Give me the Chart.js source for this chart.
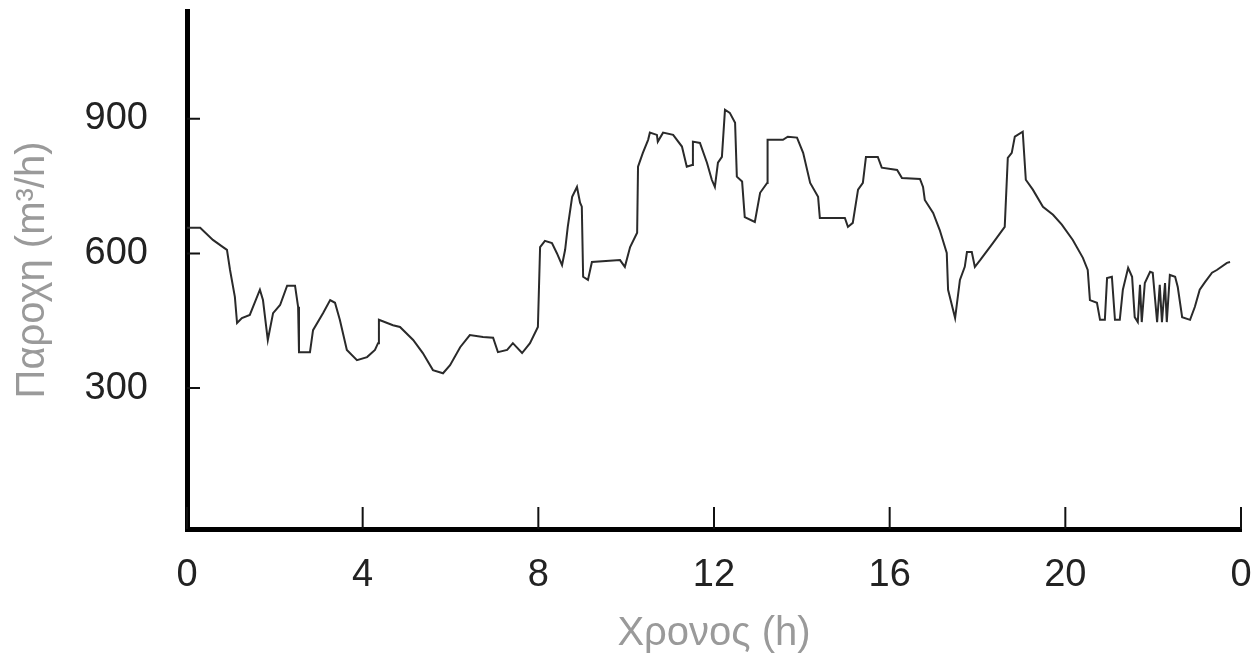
<!DOCTYPE html>
<html>
<head>
<meta charset="utf-8">
<script src="https://cdn.jsdelivr.net/npm/chart.js@4"></script>
<style>
  html, body { margin: 0; padding: 0; background: #fff; }
  #wrap { width: 1252px; height: 654px; }
</style>
</head>
<body>
<div id="wrap"><canvas id="flowChart" width="1252" height="654"></canvas></div>
<script>
// --- Data (hour of day, flow in m3/h) ---
const hours = [
  0, 0.30, 0.59, 0.82, 0.91, 0.98, 1.09, 1.14, 1.25, 1.43, 1.66, 1.73, 1.84, 1.96, 2.12, 2.28, 2.46, 2.53, 2.55, 2.80,
  2.87, 3.10, 3.26, 3.37, 3.48, 3.64, 3.87, 4.10, 4.28, 4.35, 4.37, 4.69, 4.85, 5.15, 5.37, 5.60, 5.83, 5.99, 6.22, 6.44,
  6.74, 6.97, 7.08, 7.29, 7.42, 7.63, 7.81, 7.99, 8.04, 8.15, 8.31, 8.42, 8.54, 8.61, 8.67, 8.77, 8.88, 8.95, 8.99, 9.02,
  9.13, 9.22, 9.86, 9.97, 10.09, 10.25, 10.27, 10.38, 10.50, 10.54, 10.70, 10.72, 10.84, 11.07, 11.27, 11.38, 11.50, 11.52, 11.68, 11.84,
  11.95, 12.02, 12.09, 12.18, 12.25, 12.36, 12.48, 12.52, 12.64, 12.70, 12.93, 13.05, 13.21, 13.22, 13.57, 13.68, 13.89, 14.03, 14.19, 14.37,
  14.41, 14.98, 15.05, 15.16, 15.28, 15.39, 15.46, 15.73, 15.82, 16.17, 16.28, 16.69, 16.76, 16.80, 16.99, 17.14, 17.30, 17.33, 17.49, 17.60,
  17.71, 17.76, 17.87, 17.94, 18.06, 18.35, 18.62, 18.69, 18.78, 18.85, 19.03, 19.10, 19.26, 19.49, 19.72, 19.92, 20.17, 20.40, 20.51, 20.56,
  20.72, 20.79, 20.90, 20.95, 21.06, 21.13, 21.24, 21.31, 21.43, 21.52, 21.58, 21.65, 21.70, 21.74, 21.81, 21.93, 21.99, 22.09, 22.15, 22.20,
  22.27, 22.31, 22.38, 22.50, 22.56, 22.66, 22.84, 22.95, 23.06, 23.18, 23.34, 23.45, 23.68, 23.75
];
const flow = [
  657, 657, 630, 614, 608, 563, 503, 445, 456, 463, 519, 496, 407, 467, 485, 528, 528, 481, 380, 380,
  429, 467, 496, 490, 452, 385, 362, 369, 385, 400, 452, 440, 436, 407, 378, 340, 333, 351, 391, 418,
  414, 412, 380, 385, 400, 378, 400, 436, 614, 628, 623, 601, 574, 608, 659, 726, 748, 713, 704, 548,
  541, 581, 585, 570, 614, 646, 793, 824, 853, 869, 864, 849, 869, 864, 838, 793, 797, 849, 846, 802,
  764, 748, 802, 815, 920, 913, 891, 771, 760, 681, 670, 735, 757, 853, 853, 860, 858, 824, 757, 726,
  679, 679, 659, 668, 742, 757, 815, 815, 791, 786, 768, 766, 748, 719, 690, 652, 601, 519, 456, 541,
  570, 603, 603, 570, 585, 623, 659, 813, 824, 860, 871, 764, 742, 704, 686, 664, 630, 590, 563, 496,
  490, 452, 452, 545, 548, 452, 452, 519, 568, 548, 458, 447, 530, 447, 534, 559, 557, 447, 530, 447,
  534, 447, 552, 548, 525, 458, 452, 481, 519, 536, 557, 563, 579, 581
];
const hourTicks = [0, 4, 8, 12, 16, 20, 24];
const flowTicks = [300, 600, 900];

const points = hours.map((h, i) => ({ x: h, y: flow[i] }));

// small inward tick marks, like the original figure
const innerTicks = {
  id: 'innerTicks',
  afterDraw(chart) {
    const { ctx, scales: { x, y } } = chart;
    ctx.save();
    ctx.strokeStyle = '#111';
    ctx.lineWidth = 2;
    ctx.beginPath();
    hourTicks.forEach(h => {
      const px = x.getPixelForValue(h);
      ctx.moveTo(px, x.top);
      ctx.lineTo(px, x.top - 22);
    });
    flowTicks.forEach(v => {
      const py = y.getPixelForValue(v);
      ctx.moveTo(y.right, py);
      ctx.lineTo(y.right + 13, py);
    });
    ctx.stroke();
    ctx.restore();
  }
};

const tickFont = { family: "'Liberation Sans', Arial, sans-serif", size: 38 };
const titleFont = { family: "'Liberation Sans', Arial, sans-serif", size: 40 };

new Chart(document.getElementById('flowChart'), {
  type: 'line',
  data: {
    datasets: [{
      data: points,
      borderColor: '#2a2a2a',
      borderWidth: 2,
      pointRadius: 0,
      tension: 0,
      fill: false
    }]
  },
  options: {
    responsive: false,
    animation: false,
    devicePixelRatio: 1,
    layout: { padding: { top: 11, right: 11, left: 0, bottom: 0 } },
    plugins: { legend: { display: false }, tooltip: { enabled: false } },
    scales: {
      x: {
        type: 'linear',
        min: 0,
        max: 24,
        afterBuildTicks: s => { s.ticks = hourTicks.map(v => ({ value: v })); },
        afterFit: s => { s.height = 125; s.paddingLeft = 0; s.paddingRight = 0; },
        grid: { display: false, drawTicks: false },
        border: { display: true, color: '#000', width: 5 },
        ticks: {
          color: '#222',
          font: tickFont,
          padding: 24,
          maxRotation: 0,
          callback: v => String(v % 24)
        },
        title: {
          display: true,
          text: 'Χρονος (h)',
          color: '#9a9a9a',
          font: { ...titleFont, lineHeight: 1 },
          padding: { top: 0, bottom: 0 }
        }
      },
      y: {
        min: -14,
        max: 1140,
        afterBuildTicks: s => { s.ticks = flowTicks.map(v => ({ value: v })); },
        afterFit: s => { s.width = 187; s.paddingTop = 0; s.paddingBottom = 0; },
        grid: { display: false, drawTicks: false },
        border: { display: true, color: '#000', width: 5 },
        ticks: { color: '#222', font: tickFont, padding: 39 },
        title: {
          display: true,
          text: 'Παροχη (m³/h)',
          color: '#9a9a9a',
          font: titleFont,
          padding: { top: 9, bottom: 0 }
        }
      }
    }
  },
  plugins: [innerTicks]
});
</script>
</body>
</html>
